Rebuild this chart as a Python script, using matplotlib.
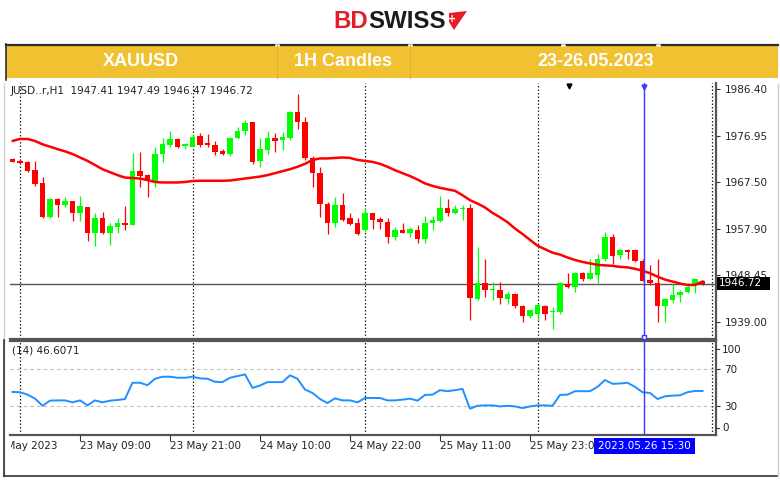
import matplotlib
matplotlib.use("Agg")
import matplotlib.pyplot as plt
from matplotlib.patches import Rectangle, Polygon
import numpy as np

# ---------------- data ----------------
opens = [1972.26, 1971.85, 1971.51, 1969.95, 1967.36, 1960.30, 1963.96, 1962.80, 1963.55, 1961.10,
         1962.30, 1957.10, 1960.10, 1957.00, 1958.40, 1959.10, 1958.80, 1969.70, 1968.90, 1967.60,
         1973.20, 1975.00, 1976.20, 1974.90, 1974.70, 1976.90, 1975.40, 1975.00, 1973.80, 1973.20,
         1976.50, 1977.80, 1979.70, 1971.80, 1974.00, 1976.40, 1976.10, 1976.50, 1981.80, 1979.80,
         1972.40, 1969.40, 1963.10, 1959.10, 1962.80, 1960.20, 1959.10, 1957.80, 1961.10, 1959.90,
         1959.40, 1956.30, 1957.70, 1957.20, 1957.80, 1955.90, 1959.20, 1959.60, 1962.10, 1961.10,
         1961.90, 1962.10, 1943.60, 1947.00, 1945.50, 1945.50, 1943.60, 1944.60, 1942.30, 1940.20,
         1940.50, 1942.30, 1941.00, 1940.90, 1946.80, 1946.00, 1948.90, 1947.80, 1948.50, 1951.70,
         1956.20, 1952.60, 1953.60, 1953.60, 1951.40, 1947.50, 1947.00, 1942.20, 1943.50, 1944.40,
         1945.10, 1946.70, 1947.41]
highs = [1972.46, 1972.10, 1971.78, 1971.78, 1968.45, 1964.30, 1964.30, 1964.50, 1963.70, 1964.60,
         1962.50, 1961.10, 1961.30, 1959.10, 1960.20, 1962.70, 1973.50, 1973.60, 1969.10, 1974.70,
         1976.40, 1977.80, 1976.50, 1975.50, 1977.20, 1977.40, 1977.30, 1975.90, 1974.20, 1976.70,
         1978.80, 1980.10, 1979.80, 1976.40, 1977.80, 1977.40, 1977.60, 1982.00, 1985.40, 1980.80,
         1972.80, 1970.60, 1963.50, 1964.50, 1965.20, 1961.10, 1960.10, 1962.10, 1961.20, 1960.30,
         1960.20, 1958.40, 1959.10, 1958.40, 1958.70, 1960.60, 1960.60, 1964.60, 1964.00, 1962.80,
         1962.90, 1963.10, 1954.30, 1951.70, 1947.20, 1947.20, 1945.10, 1944.80, 1942.40, 1941.50,
         1942.70, 1942.40, 1942.10, 1947.20, 1949.00, 1949.20, 1949.20, 1951.90, 1952.80, 1957.40,
         1956.90, 1953.90, 1953.90, 1953.80, 1951.70, 1950.60, 1951.90, 1943.80, 1946.80, 1945.50,
         1946.90, 1948.00, 1947.49]
lows = [1971.51, 1971.20, 1969.54, 1966.76, 1960.20, 1960.20, 1960.30, 1962.46, 1959.60, 1959.60,
        1955.50, 1954.40, 1956.90, 1954.60, 1957.20, 1957.80, 1958.70, 1966.50, 1964.40, 1966.40,
        1971.60, 1974.70, 1974.40, 1974.30, 1974.60, 1974.70, 1974.60, 1973.00, 1972.90, 1972.70,
        1976.20, 1977.00, 1971.20, 1970.60, 1973.30, 1973.70, 1974.00, 1976.10, 1978.40, 1972.00,
        1966.50, 1960.40, 1956.80, 1958.40, 1959.60, 1958.70, 1956.70, 1957.40, 1958.00, 1958.00,
        1955.10, 1955.70, 1957.00, 1956.30, 1955.00, 1955.00, 1957.70, 1959.40, 1960.60, 1961.00,
        1959.70, 1939.30, 1943.50, 1944.10, 1943.40, 1942.70, 1942.70, 1941.90, 1938.90, 1939.80,
        1939.30, 1939.30, 1937.50, 1940.60, 1945.90, 1945.10, 1947.40, 1947.70, 1946.90, 1951.40,
        1950.80, 1951.90, 1951.90, 1951.20, 1947.30, 1946.50, 1938.90, 1939.00, 1942.90, 1943.10,
        1944.80, 1944.90, 1946.47]
closes = [1971.64, 1971.44, 1969.75, 1967.10, 1960.30, 1963.96, 1962.80, 1963.55, 1961.10, 1962.60,
          1957.10, 1960.10, 1957.00, 1958.50, 1959.10, 1958.80, 1969.70, 1968.70, 1967.60, 1973.20,
          1975.20, 1976.20, 1974.70, 1975.20, 1976.70, 1975.00, 1975.00, 1973.70, 1973.20, 1976.50,
          1977.80, 1979.50, 1971.60, 1974.20, 1976.40, 1975.90, 1976.60, 1981.80, 1979.80, 1972.30,
          1969.40, 1963.00, 1959.10, 1962.80, 1959.70, 1958.90, 1956.80, 1961.10, 1959.70, 1959.40,
          1956.30, 1957.70, 1957.20, 1958.00, 1955.90, 1959.20, 1959.70, 1962.10, 1961.10, 1961.90,
          1962.10, 1943.80, 1947.00, 1945.50, 1945.70, 1943.80, 1944.60, 1942.20, 1940.20, 1941.40,
          1942.40, 1940.60, 1941.30, 1947.00, 1946.00, 1948.90, 1947.80, 1949.00, 1951.90, 1956.30,
          1952.50, 1953.60, 1953.30, 1951.40, 1947.40, 1947.00, 1942.20, 1943.60, 1944.50, 1945.10,
          1946.10, 1947.70, 1946.72]
ma_line = [1975.86, 1976.27, 1976.27, 1975.86, 1975.18, 1974.70, 1974.20, 1973.75, 1973.20, 1972.50,
           1971.80, 1970.96, 1970.10, 1969.50, 1968.90, 1968.40, 1968.30, 1968.20, 1967.90, 1967.50,
           1967.40, 1967.40, 1967.40, 1967.50, 1967.70, 1967.75, 1967.75, 1967.75, 1967.75, 1967.80,
           1968.00, 1968.20, 1968.40, 1968.60, 1968.90, 1969.30, 1969.70, 1970.10, 1970.60, 1971.20,
           1972.00, 1972.30, 1972.30, 1972.40, 1972.50, 1972.40, 1972.00, 1971.80, 1971.60, 1971.20,
           1970.60, 1969.90, 1969.30, 1968.70, 1968.00, 1967.20, 1966.70, 1966.30, 1966.00, 1965.70,
           1964.80, 1963.80, 1963.10, 1962.30, 1961.20, 1960.30, 1959.30, 1958.00, 1956.90, 1955.70,
           1954.50, 1953.80, 1953.10, 1952.70, 1952.10, 1951.60, 1951.20, 1950.90, 1950.60, 1950.50,
           1950.40, 1950.20, 1950.10, 1949.80, 1949.40, 1948.90, 1948.20, 1947.60, 1947.20, 1946.80,
           1946.50, 1946.50, 1947.20]
rsi = [45.6, 45.3, 42.7, 38.4, 30.7, 36.2, 36.5, 36.5, 34.4, 36.5,
       31.1, 36.5, 34.4, 36.2, 36.9, 38.0, 55.5, 55.5, 52.9, 59.8,
       62.0, 62.0, 60.9, 60.9, 62.0, 60.2, 59.8, 56.5, 56.2, 60.9,
       62.7, 64.5, 50.0, 52.5, 56.2, 56.2, 56.2, 63.5, 59.8, 48.2,
       44.5, 38.0, 33.6, 38.7, 36.5, 36.5, 34.4, 39.1, 39.1, 39.1,
       36.5, 36.5, 37.3, 38.4, 36.2, 42.4, 42.7, 47.5, 46.4, 47.5,
       48.9, 27.5, 30.7, 31.1, 31.1, 30.0, 30.7, 30.0, 28.2, 30.0,
       31.1, 31.1, 30.7, 42.4, 42.7, 46.4, 46.4, 46.4, 51.1, 58.4,
       54.4, 54.7, 55.5, 51.1, 45.3, 44.5, 38.0, 40.9, 41.6, 42.0,
       45.3, 46.7, 46.6071]

price_ticks = [1986.40, 1976.95, 1967.50, 1957.90, 1948.45, 1939.00]
last_price = 1946.72
x_tick_bars = [-3, 9, 21, 33, 45, 57, 69]
x_tick_labels = ["22 May 2023", "23 May 09:00", "23 May 21:00", "24 May 10:00",
                 "24 May 22:00", "25 May 11:00", "25 May 23:00"]
day_sep_bars = [1, 24, 47, 70, 93.25]
cursor_bar = 84.2
cursor_label = "2023.05.26 15:30"
info_text = "JUSD..r,H1  1947.41 1947.49 1946.47 1946.72"
rsi_text = "(14) 46.6071"
header_cells = ["XAUUSD", "1H Candles", "23-26.05.2023"]

# ---------------- layout helpers ----------------
W, H = 780, 480
def rect(x0, y0, x1, y1):
    return [x0 / W, 1 - y1 / H, (x1 - x0) / W, (y1 - y0) / H]

plt.rcParams['font.family'] = ['DejaVu Sans']
fig = plt.figure(figsize=(7.8, 4.8), dpi=100, facecolor='white')

xl = ((10 - 12.5) / 7.5, (716 - 12.5) / 7.5)
BULL, BEAR = '#00ff00', '#ff0000'
AXC = '#333333'
FS = 7.5

# ---------------- main price panel ----------------
ax = fig.add_axes(rect(10, 83, 716, 339))
idx = np.arange(len(opens))
o = np.array(opens); c = np.array(closes); h = np.array(highs); l = np.array(lows)
cols = np.where(c >= o, BULL, BEAR)
ax.vlines(idx, l, h, colors=cols, linewidth=0.9, zorder=3)
bh = np.maximum(np.abs(c - o), 0.22)
ax.bar(idx, bh, bottom=np.minimum(o, c), width=0.68, color=cols, linewidth=0, zorder=4)
ax.plot(idx, ma_line, color='#ff0000', lw=1.8, zorder=5, solid_capstyle='round')
ax.axhline(last_price, color='#555555', lw=1.0, zorder=2)
for b in day_sep_bars:
    ax.axvline(b, color='#222222', lw=0.9, ls=(0, (1.2, 1.6)), zorder=1)
ax.axvline(cursor_bar, color='#3a3aff', lw=1.0, zorder=6)
ax.set_yticks(price_ticks)
ax.set_yticklabels([f"{p:.2f}" for p in price_ticks])
ax.yaxis.tick_right()
ax.tick_params(axis='y', length=3, width=0.8, color=AXC, labelsize=FS, pad=3, labelcolor='#222222')
ax.set_xticks([])
ax.set_xlim(*xl)
ax.set_ylim(1935.49, 1987.68)
for s in ['top', 'left']:
    ax.spines[s].set_visible(False)
ax.spines['right'].set_color('#555555'); ax.spines['right'].set_linewidth(1.6)
ax.spines['bottom'].set_color('#555555'); ax.spines['bottom'].set_linewidth(1.6)

# ---------------- RSI panel ----------------
axr = fig.add_axes(rect(10, 341, 716, 435))
axr.plot(idx, rsi, color='#1e90ff', lw=1.4, zorder=4)
for lv in [70, 30]:
    axr.axhline(lv, color='#bdbdbd', lw=0.8, ls=(0, (3, 3)), zorder=1)
for b in day_sep_bars:
    axr.axvline(b, color='#222222', lw=0.9, ls=(0, (1.2, 1.6)), zorder=1)
axr.axvline(cursor_bar, color='#3a3aff', lw=1.0, zorder=6)
axr.set_yticks([30, 70])
axr.yaxis.tick_right()
axr.tick_params(axis='y', length=3, width=0.8, color=AXC, labelsize=FS, pad=3, labelcolor='#222222')
axr.set_xticks(x_tick_bars)
axr.set_xticklabels([])
axr.tick_params(axis='x', length=4, width=0.8, color=AXC, direction='out')
axr.set_xlim(*xl)
axr.set_ylim(-0.8, 100.5)
axr.spines['left'].set_visible(False)
for s in ['top', 'bottom', 'right']:
    axr.spines[s].set_color('#555555'); axr.spines[s].set_linewidth(1.6)
axr.text(0.003, 0.9, rsi_text, transform=axr.transAxes, fontsize=FS, color='#222222',
         ha='left', va='center')

# ---------------- time labels strip ----------------
axl = fig.add_axes(rect(11, 436, 716, 460))
axl.set_xlim((11 - 12.5) / 7.5, xl[1])
axl.set_ylim(0, 1)
axl.axis('off')
for b, t in zip(x_tick_bars, x_tick_labels):
    axl.text(b - 0.05, 0.58, t, fontsize=FS, color='#222222', ha='left', va='center', clip_on=True)

# ---------------- overlay (pixel coords) ----------------
ov = fig.add_axes([0, 0, 1, 1], zorder=20)
ov.set_xlim(0, W); ov.set_ylim(H, 0)
ov.axis('off')
ov.patch.set_alpha(0)

# logo
ov.text(333, 21, "BD", fontsize=17.3, fontweight='bold', color='#e31e26',
        family=['Liberation Sans', 'DejaVu Sans'], ha='left', va='center')
ov.text(368.5, 21, "SWISS", fontsize=17.3, fontweight='bold', color='#1b1b1b',
        family=['Liberation Sans', 'DejaVu Sans'], ha='left', va='center')
ov.add_patch(Polygon([(449, 13), (467, 11), (454, 30), (449, 22)], closed=True,
                     facecolor='#e31e26', edgecolor='none'))
ov.text(452.5, 18.5, "+", fontsize=7, fontweight='bold', color='white', ha='center', va='center')

# header band
ov.add_patch(Rectangle((6, 45), 772, 33, facecolor='#f0c232', edgecolor='none'))
ov.plot([6, 778], [44.5, 44.5], color='#2e2e2e', lw=1.6)
for gx in [277, 410, 563, 658]:
    ov.plot([gx - 1, gx + 1], [44.5, 44.5], color='white', lw=1.8)
for gx in [277, 410]:
    ov.plot([gx, gx], [45, 78], color='#e2b22a', lw=0.9)
ov.plot([5.5, 5.5], [44, 80], color='#2e2e2e', lw=1.2)
hfam = ['Liberation Sans Narrow', 'Liberation Sans', 'DejaVu Sans']
for cx, t in zip([141, 343, 596], header_cells):
    ov.text(cx, 62, t, fontsize=13, fontweight='bold', color='white', family=hfam,
            ha='center', va='center')

# window frame
ov.plot([3.5, 3.5], [84, 476], color='#d0d0d0', lw=1.0)
ov.plot([3.5, 3.5], [340, 476], color='#333333', lw=1.2)
ov.plot([3.5, 777], [476, 476], color='#333333', lw=1.2)
ov.plot([777.5, 777.5], [84, 476], color='#cfcfcf', lw=1.0)

# info text
ov.text(11, 91, info_text, fontsize=FS, color='#222222', ha='left', va='center')

# RSI extreme labels
ov.text(722, 350, "100", fontsize=FS, color='#222222', ha='left', va='center')
ov.text(722, 428, "0", fontsize=FS, color='#222222', ha='left', va='center')
ov.plot([716, 719], [349, 349], color=AXC, lw=0.8)
ov.plot([716, 719], [428, 428], color=AXC, lw=0.8)

# current price box
ov.add_patch(Rectangle((716.5, 277), 53, 13, facecolor='black', edgecolor='none'))
ov.text(719, 283.5, f"{last_price:.2f}", fontsize=FS, color='white', ha='left', va='center')

# markers
ov.plot([569], [86], marker='v', ms=3.5, color='black', lw=0)
ov.plot([644], [86.5], marker='v', ms=3.5, color='#3a3aff', lw=0)
ov.plot([644], [336.5], marker='s', ms=3.5, mfc='white', mec='#3a3aff', mew=1, lw=0)

# cursor time box
ov.add_patch(Rectangle((594, 437.5), 101, 16.5, facecolor='#0000ff', edgecolor='none'))
ov.text(644.5, 446, cursor_label, fontsize=FS, color='white', ha='center', va='center')

fig.savefig("out.png", dpi=100, facecolor='white')
